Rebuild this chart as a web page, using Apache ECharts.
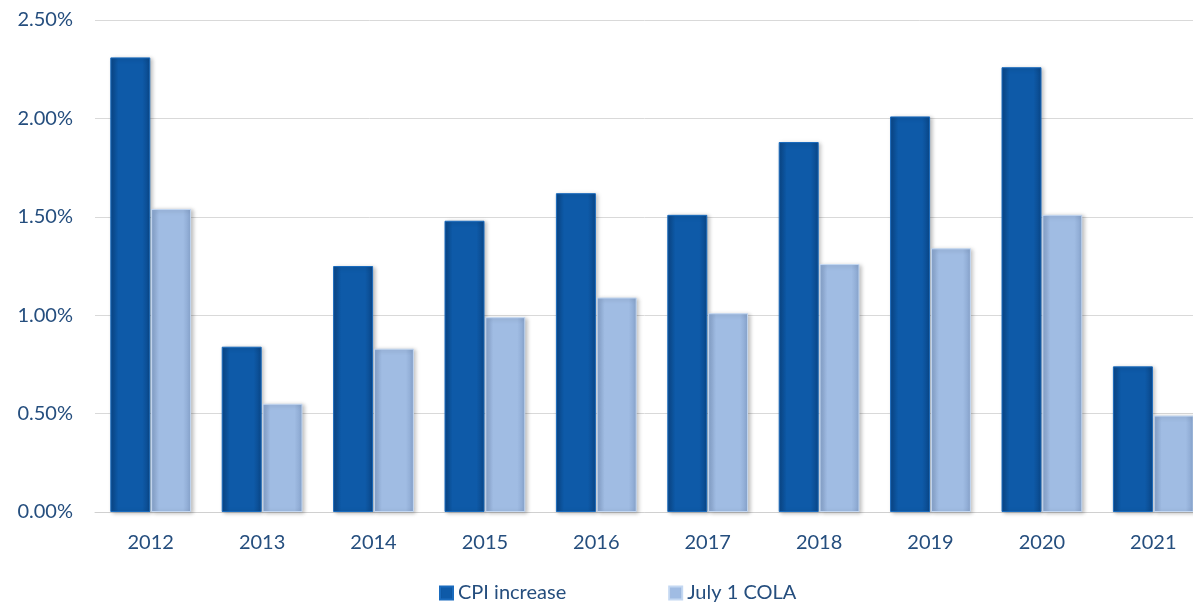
<!DOCTYPE html>
<html><head><meta charset="utf-8">
<script src="https://cdn.jsdelivr.net/npm/echarts@6/dist/echarts.min.js"></script>
<style>html,body{margin:0;padding:0;background:#fff;}#c{width:1193px;height:604px;}</style>
</head><body><div id="c"></div>
<script>
const categories = ['2012','2013','2014','2015','2016','2017','2018','2019','2020','2021'];
const cpiIncrease = [2.31, 0.84, 1.25, 1.48, 1.62, 1.51, 1.88, 2.01, 2.26, 0.74];
const julyCola = [1.54, 0.55, 0.83, 0.99, 1.09, 1.01, 1.26, 1.34, 1.51, 0.49];
const yTicks = [0, 0.5, 1, 1.5, 2, 2.5];

const chart = echarts.init(document.getElementById('c'));
function grad(edge, mid) {
  return new echarts.graphic.LinearGradient(0, 0, 1, 0, [
    {offset: 0, color: edge}, {offset: 0.2, color: mid}, {offset: 0.8, color: mid}, {offset: 1, color: edge}
  ]);
}
const labelColor = '#254e7e';
chart.setOption({
  animation: false,
  grid: {left: 95, width: 1114, top: 20, height: 492, outerBoundsMode: 'none', containLabel: false},
  legend: {
    top: 578, left: 434, itemGap: 102, itemWidth: 13, itemHeight: 13,
    textStyle: {color: labelColor, fontSize: 20, fontFamily: 'Lato'},
    data: [{name: 'CPI increase', icon: 'rect'}, {name: 'July 1 COLA', icon: 'rect'}]
  },
  xAxis: {
    type: 'category', data: categories,
    axisLine: {lineStyle: {color: '#d0d0d0'}},
    axisTick: {show: false},
    axisLabel: {color: labelColor, fontSize: 20, fontFamily: 'Lato', margin: 21}
  },
  yAxis: {
    type: 'value', min: 0, max: 2.5, interval: 0.5,
    axisLine: {show: false}, axisTick: {show: false},
    splitLine: {lineStyle: {color: '#d9d9d9', width: 1}},
    axisLabel: {color: labelColor, fontSize: 20, fontFamily: 'Lato', margin: 22,
      formatter: v => v.toFixed(2) + '%'}
  },
  series: [
    {name: 'CPI increase', type: 'bar', data: cpiIncrease, barWidth: 40, barGap: '2%',
      itemStyle: {color: grad('#0a4687', '#0e5aa8'), borderColor: '#1a6bbd', borderWidth: 1,
        shadowColor: 'rgba(0,0,0,0.25)', shadowBlur: 4, shadowOffsetX: 2, shadowOffsetY: 1}},
    {name: 'July 1 COLA', type: 'bar', data: julyCola, barWidth: 40,
      itemStyle: {color: grad('#87a3cc', '#a0bce3'), borderColor: '#c4d8f2', borderWidth: 1,
        shadowColor: 'rgba(0,0,0,0.25)', shadowBlur: 4, shadowOffsetX: 2, shadowOffsetY: 1}}
  ]
});
</script></body></html>
